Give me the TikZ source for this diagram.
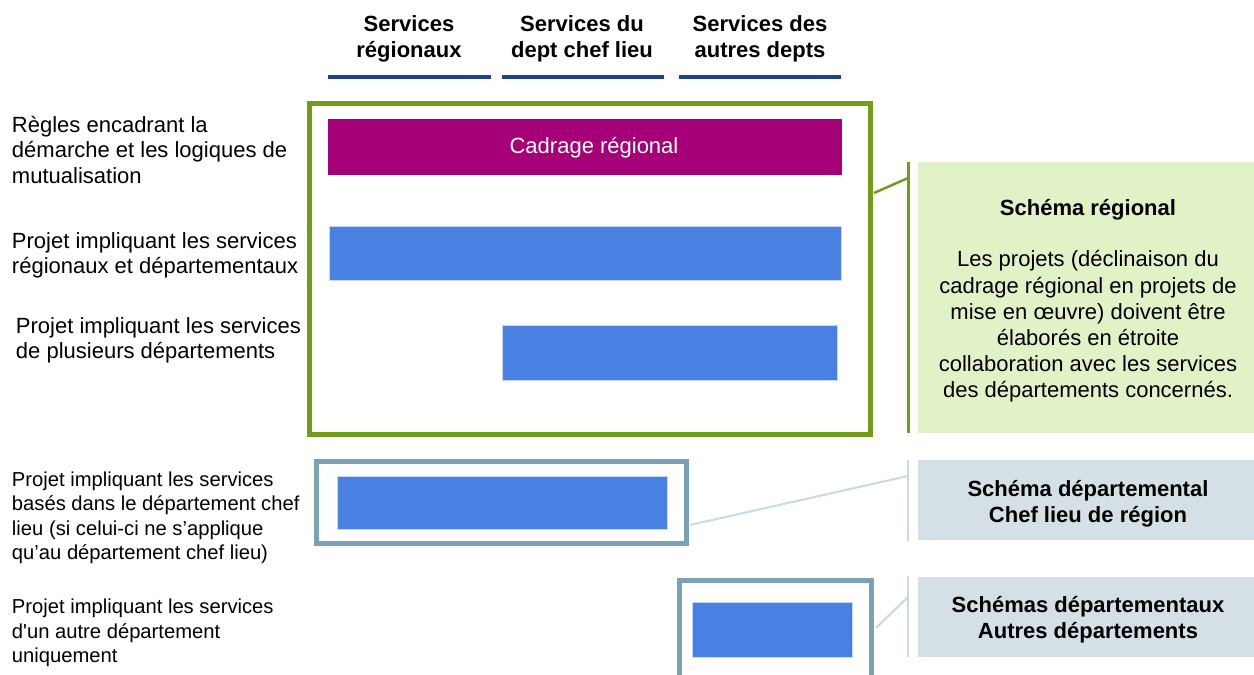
\documentclass[tikz,border=0pt]{standalone}
\usepackage{fontspec}
\setmainfont{Liberation Sans}[Ligatures=TeXOff]
\definecolor{hdrblue}{RGB}{30,65,140}
\definecolor{grn}{RGB}{112,158,26}
\definecolor{magent}{RGB}{165,0,120}
\definecolor{barblue}{RGB}{72,129,226}
\definecolor{slate}{RGB}{123,162,180}
\definecolor{lgreen}{RGB}{226,242,199}
\definecolor{lslate}{RGB}{212,224,230}
\definecolor{lineslate}{RGB}{200,218,226}
\begin{document}
\begin{tikzpicture}[x=1pt,y=-1pt,
  every node/.style={inner sep=0,outer sep=0},
  hdr/.style={font=\bfseries\fontsize{22}{26.5}\selectfont, align=center},
  hdrline/.style={draw=hdrblue, line width=4},
  rowlbl/.style={font=\fontsize{22}{25.5}\selectfont, align=left, anchor=west},
  rowlblsm/.style={font=\fontsize{20.2}{24.5}\selectfont, align=left, anchor=west},
  bar/.style={fill=barblue, draw=barblue!30!white, line width=0.8, anchor=north west},
  frame/.style={draw, line width=4.5, anchor=north west},
  panel/.style={anchor=north west, minimum width=336, align=center},
  ptitle/.style={font=\bfseries\fontsize{22}{26}\selectfont, align=center},
  pbody/.style={font=\fontsize{22}{26.2}\selectfont, align=center},
]
\clip (0,0) rectangle (1254,675);
\fill[white] (0,0) rectangle (1254,675);

% column headers
\node[hdr] (h1) at (409,39) {Services\\régionaux};
\node[hdr] (h2) at (582,39) {Services du\\dept chef lieu};
\node[hdr] (h3) at (760,39) {Services des\\autres depts};
\draw[hdrline] (328,77) -- (491,77);
\draw[hdrline] (502,77) -- (664,77);
\draw[hdrline] (679,77) -- (841,77);

% row labels
\node[rowlbl] (l1) at (12,150) {Règles encadrant la\\démarche et les logiques de\\mutualisation};
\node[rowlbl] (l2) at (12,255.5) {Projet impliquant les services\\régionaux et départementaux};
\node[rowlbl] (l3) at (16,340.5) {Projet impliquant les services\\de plusieurs départements};
\node[rowlblsm] (l4) at (12,518) {Projet impliquant les services\\basés dans le département chef\\lieu (si celui-ci ne s’applique\\qu’au département chef lieu)};
\node[rowlblsm] (l5) at (12,633) {Projet impliquant les services\\d'un autre département\\uniquement};

% regional frame
\node[frame, draw=grn, minimum width=561, minimum height=331] (gbox) at (309.25,103.25) {};
\node[anchor=north west, fill=magent, minimum width=514, minimum height=56] (cad) at (328,119) {};
\node[font=\fontsize{22}{24}\selectfont, text=white] (cadt) at (594,148) {Cadrage régional};
\node[bar, minimum width=512, minimum height=54] (b1) at (329,226) {};
\node[bar, minimum width=335, minimum height=55] (b2) at (502,325) {};

% departmental frames
\node[frame, draw=slate, minimum width=370, minimum height=82] (sbox1) at (316.5,461.5) {};
\node[bar, minimum width=330, minimum height=53] (b3) at (337,476) {};
\node[frame, draw=slate, minimum width=192, minimum height=130] (sbox2) at (679.5,580.5) {};
\node[bar, minimum width=160, minimum height=55] (b4) at (692,602) {};

% right panels
\node[panel, fill=lgreen, minimum height=271] (p1) at (918,162) {};
\node[ptitle] (p1t) at (1088,210) {Schéma régional};
\node[pbody] (p1b) at (1088,326.5) {Les projets (déclinaison du\\cadrage régional en projets de\\mise en œuvre) doivent être\\élaborés en étroite\\collaboration avec les services\\des départements concernés.};
\node[panel, fill=lslate, minimum height=80] (p2) at (918,460) {};
\node[ptitle] (p2t) at (1088,504) {Schéma départemental\\Chef lieu de région};
\node[panel, fill=lslate, minimum height=80] (p3) at (918,577) {};
\node[ptitle] (p3t) at (1088,620) {Schémas départementaux\\Autres départements};

% brackets and connectors
\coordinate (v1a) at (908,162);
\coordinate (v1b) at (908,433);
\coordinate (v2a) at (908,460);
\coordinate (v2b) at (908,541);
\coordinate (v3a) at (908,576);
\coordinate (v3b) at (908,657);
\draw[grn, line width=3] (v1a) -- (v1b);
\draw[lineslate, line width=2.5] (v2a) -- (v2b);
\draw[lineslate, line width=2.5] (v3a) -- (v3b);
\coordinate (k1a) at (874,193);
\coordinate (k1b) at (908,178);
\coordinate (k2a) at (690,525);
\coordinate (k2b) at (908,476);
\coordinate (k3a) at (876,628);
\coordinate (k3b) at (908,597);
\draw[grn, line width=2.5] (k1a) -- (k1b);
\draw[lineslate, line width=2] (k2a) -- (k2b);
\draw[lineslate, line width=2] (k3a) -- (k3b);
\end{tikzpicture}
\end{document}
